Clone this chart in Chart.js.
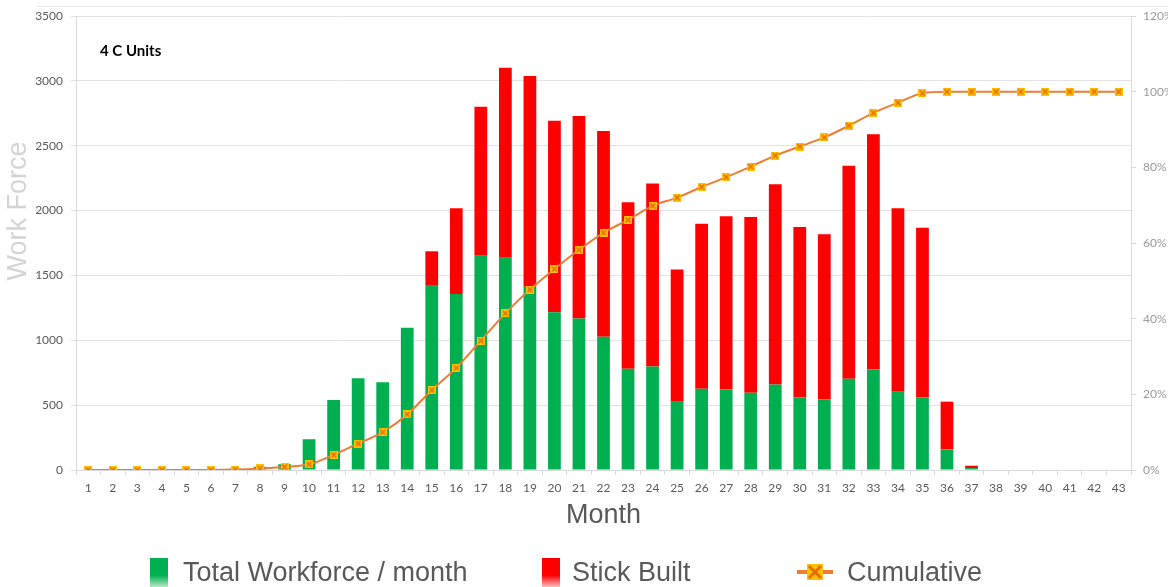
<!DOCTYPE html>
<html lang="en">
<head>
<meta charset="UTF-8">
<title>4 C Units - Work Force</title>
<script src="https://cdn.jsdelivr.net/npm/chart.js"></script>
<style>
  html, body { margin: 0; padding: 0; background: #fff; }
</style>
</head>
<body>
<canvas id="myChart" width="1168" height="587"></canvas>
<script>
// Данные: месяцы, рабочая сила по месяцам, stick built, накопительный %
const months = ['1','2','3','4','5','6','7','8','9','10','11','12','13','14','15','16','17','18','19','20','21','22',
                '23','24','25','26','27','28','29','30','31','32','33','34','35','36','37','38','39','40','41','42','43'];

const totalWorkforce = [0, 0, 0, 0, 0, 0, 10, 25, 44, 237, 540, 707, 676, 1097, 1426, 1357, 1652, 1637, 1413, 1216, 1167, 1028,
                        781, 797, 532, 627, 622, 596, 660, 560, 545, 704, 776, 604, 560, 159, 15, 0, 0, 0, 0, 0, 0];

const stickBuilt = [0, 0, 0, 0, 0, 0, 0, 0, 0, 0, 0, 0, 0, 0, 260, 660, 1149, 1465, 1625, 1477, 1562, 1586,
                    1283, 1411, 1013, 1272, 1334, 1355, 1543, 1314, 1272, 1642, 1812, 1413, 1308, 368, 18, 0, 0, 0, 0, 0, 0];

const cumulative = [0, 0, 0, 0, 0, 0, 0.1, 0.4, 0.8, 1.5, 4.0, 7.0, 10.0, 14.7, 21.1, 27.0, 34.2, 41.4, 47.7, 53.1, 58.2, 62.7,
                    66.1, 69.8, 72.0, 74.8, 77.4, 80.2, 83.1, 85.5, 87.9, 91.0, 94.4, 97.1, 99.6, 100, 100, 100, 100, 100, 100, 100, 100];

const workForceMax = 3500, workForceStep = 500;
const percentMax = 120, percentStep = 20;

const chartTitle = '4 C Units';
const yTitle = 'Work Force';
const xTitle = 'Month';

// маркер для линии (квадрат с крестиком)
function makeMarker(size, lw) {
    const c = document.createElement('canvas');
    c.width = size; c.height = size;
    const g = c.getContext('2d');
    g.fillStyle = '#FFC000';
    g.fillRect(0, 0, size, size);
    g.strokeStyle = '#E46C0A';
    g.lineWidth = lw;
    g.beginPath();
    g.moveTo(1.5, 1.5); g.lineTo(size - 1.5, size - 1.5);
    g.moveTo(size - 1.5, 1.5); g.lineTo(1.5, size - 1.5);
    g.stroke();
    return c;
}
const pointMarker = makeMarker(8, 1.5);

// подписи, легенда и рамка
const extras = {
    id: 'extras',
    afterDraw(chart) {
        const ctx = chart.ctx;
        ctx.save();

        // верхняя рамка
        ctx.strokeStyle = '#E6E6E6';
        ctx.lineWidth = 1;
        ctx.beginPath();
        ctx.moveTo(37, 6.5); ctx.lineTo(1168, 6.5);
        ctx.stroke();

        // заголовок внутри графика
        ctx.fillStyle = '#000';
        ctx.font = 'bold 15px Lato';
        ctx.textBaseline = 'middle';
        ctx.textAlign = 'left';
        ctx.fillText(chartTitle, 100, 51);

        // подпись оси Y
        ctx.save();
        ctx.translate(19, 211);
        ctx.rotate(-Math.PI / 2);
        ctx.textAlign = 'center';
        ctx.fillStyle = '#D4D4D4';
        ctx.font = '27px "Liberation Sans"';
        ctx.fillText(yTitle, 0, 0);
        ctx.restore();

        // легенда
        const ds = chart.data.datasets;
        ctx.font = '27px "Liberation Sans"';
        ctx.textBaseline = 'alphabetic';
        ctx.textAlign = 'left';

        let g1 = ctx.createLinearGradient(0, 558, 0, 587);
        g1.addColorStop(0, '#00B050'); g1.addColorStop(0.6, '#00B050'); g1.addColorStop(1, '#B8E8C8');
        ctx.fillStyle = g1;
        ctx.fillRect(150, 558, 18, 29);
        ctx.fillStyle = '#595959';
        ctx.fillText(ds[0].label, 183, 581);

        let g2 = ctx.createLinearGradient(0, 558, 0, 587);
        g2.addColorStop(0, '#FF0000'); g2.addColorStop(0.6, '#FF0000'); g2.addColorStop(1, '#FFC0C0');
        ctx.fillStyle = g2;
        ctx.fillRect(542, 558, 18, 29);
        ctx.fillStyle = '#595959';
        ctx.fillText(ds[1].label, 572, 581);

        // маркер линии
        ctx.strokeStyle = '#ED7D31';
        ctx.lineWidth = 4;
        ctx.beginPath();
        ctx.moveTo(797, 572); ctx.lineTo(833, 572);
        ctx.stroke();
        ctx.fillStyle = '#FFC000';
        ctx.fillRect(807, 564, 16, 16);
        ctx.strokeStyle = '#E46C0A';
        ctx.lineWidth = 3;
        ctx.beginPath();
        ctx.moveTo(809, 566); ctx.lineTo(821, 578);
        ctx.moveTo(821, 566); ctx.lineTo(809, 578);
        ctx.stroke();
        ctx.fillStyle = '#595959';
        ctx.fillText(ds[2].label, 847, 581);

        ctx.restore();
    }
};

const tickFont = { family: 'Lato', size: 12 };

const data = {
    labels: months,
    datasets: [
        {
            type: 'bar',
            label: 'Total Workforce / month',
            data: totalWorkforce,
            backgroundColor: '#00B050',
            yAxisID: 'y',
            order: 1,
            barPercentage: 0.52,
            categoryPercentage: 1
        },
        {
            type: 'bar',
            label: 'Stick Built',
            data: stickBuilt,
            backgroundColor: '#FF0000',
            yAxisID: 'y',
            order: 1,
            barPercentage: 0.52,
            categoryPercentage: 1
        },
        {
            type: 'line',
            label: 'Cumulative',
            data: cumulative,
            yAxisID: 'y2',
            borderColor: '#ED7D31',
            borderWidth: 2,
            pointStyle: pointMarker,
            pointRadius: 4,
            cubicInterpolationMode: 'monotone',
            fill: false,
            order: 0
        }
    ]
};

const config = {
    type: 'bar',
    data: data,
    plugins: [extras],
    options: {
        responsive: false,
        animation: false,
        layout: { padding: { top: 16, bottom: 52, left: 0, right: 0 } },
        plugins: {
            legend: { display: false },
            tooltip: { enabled: false }
        },
        scales: {
            x: {
                stacked: true,
                grid: { drawOnChartArea: false, drawTicks: true, tickLength: 5, color: '#D9D9D9' },
                border: { color: '#D9D9D9' },
                ticks: { autoSkip: false, maxRotation: 0, padding: 6, color: '#595959', font: tickFont },
                title: { display: true, text: xTitle, color: '#595959', font: { family: 'Liberation Sans', size: 27 }, padding: { top: 0, bottom: 3 } },
                afterFit(scale) { scale.height = 65; }
            },
            y: {
                stacked: true,
                position: 'left',
                min: 0,
                max: workForceMax,
                grid: { color: '#E3E3E3', tickLength: 5 },
                border: { color: '#D9D9D9' },
                ticks: { stepSize: workForceStep, padding: 8, color: '#595959', font: tickFont, callback: v => String(v) },
                afterFit(scale) { scale.width = 76; }
            },
            y2: {
                stacked: false,
                position: 'right',
                min: 0,
                max: percentMax,
                grid: { drawOnChartArea: false, tickLength: 5, color: '#D9D9D9' },
                border: { color: '#D9D9D9' },
                ticks: { stepSize: percentStep, padding: 7, color: '#9A9A9A', font: tickFont, callback: v => v + '%' },
                afterFit(scale) { scale.width = 37; }
            }
        }
    }
};

const ctx = document.getElementById('myChart').getContext('2d');
const myChart = new Chart(ctx, config);
</script>
</body>
</html>
